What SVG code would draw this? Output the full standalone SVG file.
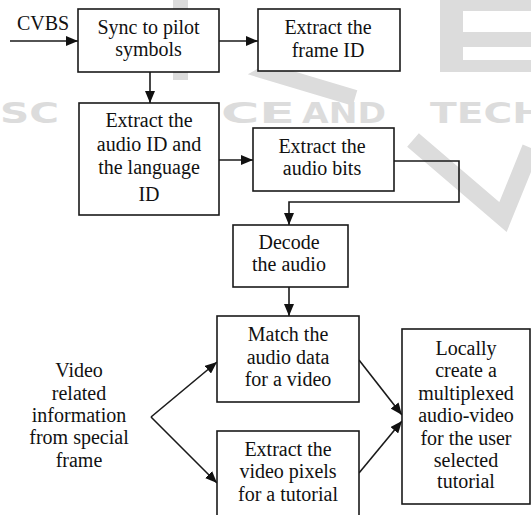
<svg xmlns="http://www.w3.org/2000/svg" width="531" height="515" viewBox="0 0 531 515">
  <style>
    .box { fill: #ffffff; stroke: #1a1a1a; stroke-width: 1.6; }
    .lbl { font-family: 'Liberation Serif', 'DejaVu Serif', serif; font-size: 20px; fill: #111111; text-anchor: middle; }
    .wire { fill: none; stroke: #1a1a1a; stroke-width: 1.6; }
    .wm { fill: #dcdcdc; }
    .wmtext { font-family: 'DejaVu Sans', 'Liberation Sans', sans-serif; font-weight: bold; font-size: 29px; fill: #dcdcdc; }
  </style>
  <defs>
    <marker id="head" viewBox="0 0 12 10" refX="12" refY="5" markerWidth="12" markerHeight="10" markerUnits="userSpaceOnUse" orient="auto">
      <path d="M0,0 L12,5 L0,10 z" fill="#111111"/>
    </marker>
  </defs>

  <rect width="531" height="515" fill="#ffffff"/>

  <!-- background publisher mark -->
  <g id="backdrop">
    <rect class="wm" x="173" y="0" width="15" height="80"/>
    <path d="M345,28 L268,72 L355,98" fill="none" stroke="#dcdcdc" stroke-width="16" stroke-linejoin="miter"/>
    <path class="wm" d="M440,0 H531 V11 H463 V32 H531 V47 H463 V60 H531 V72 H440 z"/>
    <path d="M413,140 L503,217 L531,148" fill="none" stroke="#dcdcdc" stroke-width="18"/>
    <text class="wmtext" x="0" y="123" textLength="59" lengthAdjust="spacingAndGlyphs">SC</text>
    <text class="wmtext" x="221" y="123" textLength="74" lengthAdjust="spacingAndGlyphs">CE</text>
    <text class="wmtext" x="302" y="123" textLength="84" lengthAdjust="spacingAndGlyphs">AND</text>
    <text class="wmtext" x="430" y="123" textLength="115" lengthAdjust="spacingAndGlyphs">TECH</text>
  </g>

  <!-- connectors -->
  <g id="connectors">
    <path class="wire" d="M10,41 H78" marker-end="url(#head)"/>
    <path class="wire" d="M219,41 H258" marker-end="url(#head)"/>
    <path class="wire" d="M150,72 V103" marker-end="url(#head)"/>
    <path class="wire" d="M219,160 H253" marker-end="url(#head)"/>
    <path class="wire" d="M394,161 H459 V202 H289 V225" marker-end="url(#head)"/>
    <path class="wire" d="M289,287 V316" marker-end="url(#head)"/>
    <path class="wire" d="M151,417 L217,362" marker-end="url(#head)"/>
    <path class="wire" d="M151,417 L217,483" marker-end="url(#head)"/>
    <path class="wire" d="M359,360 L402,415" marker-end="url(#head)"/>
    <path class="wire" d="M359,473 L402,421" marker-end="url(#head)"/>
    <text class="lbl" x="43" y="30">CVBS</text>
  </g>

  <g id="sync">
    <rect class="box" x="78" y="9" width="141" height="63"/>
    <text class="lbl" x="148.5" y="34">Sync to pilot</text>
    <text class="lbl" x="148.5" y="56">symbols</text>
  </g>

  <g id="frame-id">
    <rect class="box" x="258" y="9" width="142" height="62"/>
    <text class="lbl" x="328" y="34">Extract the</text>
    <text class="lbl" x="328" y="57">frame ID</text>
  </g>

  <g id="audio-language-id">
    <rect class="box" x="79" y="103" width="140" height="112"/>
    <text class="lbl" x="149" y="127">Extract the</text>
    <text class="lbl" x="149" y="151">audio ID and</text>
    <text class="lbl" x="149" y="174">the language</text>
    <text class="lbl" x="149" y="201">ID</text>
  </g>

  <g id="audio-bits">
    <rect class="box" x="253" y="128" width="141" height="63"/>
    <text class="lbl" x="322" y="153">Extract the</text>
    <text class="lbl" x="322" y="175">audio bits</text>
  </g>

  <g id="decode">
    <rect class="box" x="233" y="225" width="115" height="62"/>
    <text class="lbl" x="289" y="249">Decode</text>
    <text class="lbl" x="289" y="271">the audio</text>
  </g>

  <g id="match">
    <rect class="box" x="217" y="316" width="142" height="86"/>
    <text class="lbl" x="288" y="341">Match the</text>
    <text class="lbl" x="288" y="364">audio data</text>
    <text class="lbl" x="288" y="386">for a video</text>
  </g>

  <g id="video-pixels">
    <rect class="box" x="217" y="431" width="142" height="95"/>
    <text class="lbl" x="288" y="456">Extract the</text>
    <text class="lbl" x="288" y="478">video pixels</text>
    <text class="lbl" x="288" y="501">for a tutorial</text>
  </g>

  <g id="multiplex">
    <rect class="box" x="402" y="329" width="128" height="175"/>
    <text class="lbl" x="466" y="355">Locally</text>
    <text class="lbl" x="466" y="377">create a</text>
    <text class="lbl" x="466" y="400">multiplexed</text>
    <text class="lbl" x="466" y="422">audio-video</text>
    <text class="lbl" x="466" y="445">for the user</text>
    <text class="lbl" x="466" y="467">selected</text>
    <text class="lbl" x="466" y="488">tutorial</text>
  </g>

  <g id="special-frame">
    <text class="lbl" x="79" y="377">Video</text>
    <text class="lbl" x="79" y="400">related</text>
    <text class="lbl" x="79" y="422">information</text>
    <text class="lbl" x="79" y="444">from special</text>
    <text class="lbl" x="79" y="467">frame</text>
  </g>
</svg>
